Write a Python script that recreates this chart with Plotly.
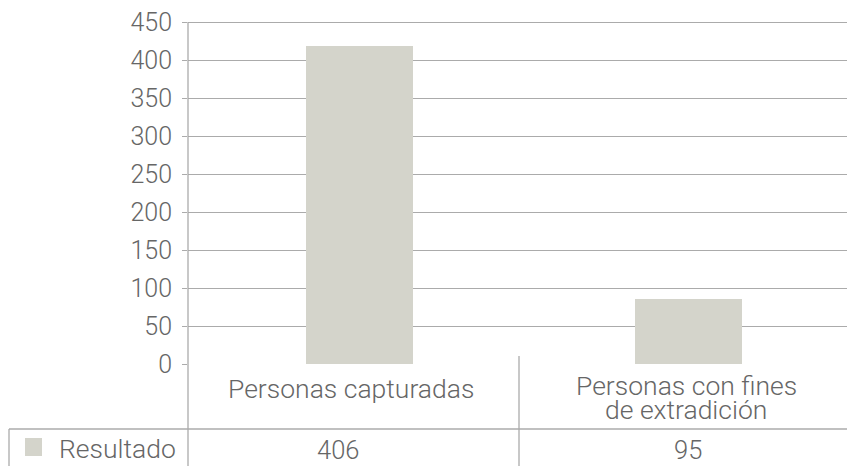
import plotly.graph_objects as go

# ---- data ----
categories = ["Personas capturadas", "Personas con fines de extradición"]
bar_values = [418, 85]            # bar heights as drawn
table_values = ["406", "95"]      # values printed in the data table
series_name = "Resultado"
y_ticks = [0, 50, 100, 150, 200, 250, 300, 350, 400, 450]

# ---- layout geometry (screen pixels; page body has an 8px margin) ----
OFF = 8
SW, SH = 855, 466                  # screen size
PL, PT, PR, PB = 188, 18, 855, 364 # plot area on screen
PW, PH = PR - PL, PB - PT
FW, FH = SW - OFF, SH - OFF        # figure size
PX_PER_UNIT = 0.76                 # 450 sits at screen y = 22
Y_MAX = (PB - PT) / PX_PER_UNIT

def px(x):
    return (x - PL) / PW

def py(y):
    return (PB - y) / PH

FONT = "Roboto, 'Liberation Sans', Arial, sans-serif"
TXT = "#666666"
GRID = "#ababab"
BAR = "#d4d4cb"

fig = go.Figure()
fig.add_trace(go.Bar(
    x=[0, 1], y=bar_values, width=0.324,
    marker=dict(color=BAR, line=dict(width=0)),
    name=series_name, showlegend=False, hoverinfo="skip",
))

fig.update_layout(
    width=FW, height=FH,
    margin=dict(l=PL - OFF, r=SW - PR, t=PT - OFF, b=SH - PB, pad=0),
    paper_bgcolor="white", plot_bgcolor="white",
    font=dict(family=FONT, color=TXT, size=24, weight=300),
    bargap=0,
    xaxis=dict(range=[-0.521, 1.507], showticklabels=False, showgrid=False,
               zeroline=False, showline=False, ticks="", fixedrange=True),
    yaxis=dict(range=[0, Y_MAX], tickvals=y_ticks, ticktext=[str(v) for v in y_ticks],
               showgrid=True, gridcolor=GRID, gridwidth=1.3,
               zeroline=False, showline=False, automargin=False,
               ticks="outside", ticklen=5, tickcolor=GRID, tickwidth=1.3,
               ticklabelstandoff=5, ticklabeloverflow="allow",
               tickfont=dict(family=FONT, size=25, color=TXT, weight=300),
               fixedrange=True),
)

shapes = []
line_style = dict(color=GRID, width=1.3)
# y axis line (runs from the 450 line down through the table)
shapes.append(dict(type="line", xref="paper", yref="paper",
                   x0=0, x1=0, y0=py(22), y1=py(SH), line=line_style))
# vertical divider between categories
shapes.append(dict(type="line", xref="paper", yref="paper",
                   x0=px(519), x1=px(519), y0=py(356), y1=py(SH), line=line_style))
# horizontal table line
shapes.append(dict(type="line", xref="paper", yref="paper",
                   x0=px(9), x1=1, y0=py(429), y1=py(429), line=line_style))
# left border of data-table row
shapes.append(dict(type="line", xref="paper", yref="paper",
                   x0=px(9), x1=px(9), y0=py(429), y1=py(SH), line=line_style))
# legend key
shapes.append(dict(type="rect", xref="paper", yref="paper",
                   x0=px(25), x1=px(42), y0=py(456), y1=py(438),
                   fillcolor=BAR, line=dict(width=0)))
fig.update_layout(shapes=shapes)

ann = []
def add_text(text, x, y, size=26.5, xanchor="center"):
    ann.append(dict(text=text, xref="paper", yref="paper", x=px(x), y=py(y),
                    xanchor=xanchor, yanchor="middle", showarrow=False,
                    font=dict(family=FONT, size=size, color=TXT, weight=300)))

add_text(categories[0], 351, 388)
words = categories[1].split(" ")
add_text(" ".join(words[:3]), 686, 386)
add_text(" ".join(words[3:]), 686, 409)
add_text(series_name, 57, 448, xanchor="left")
add_text(table_values[0], 338, 450, size=25.5)
add_text(table_values[1], 688, 450, size=25.5)
fig.update_layout(annotations=ann)

fig.write_html("out.html")
